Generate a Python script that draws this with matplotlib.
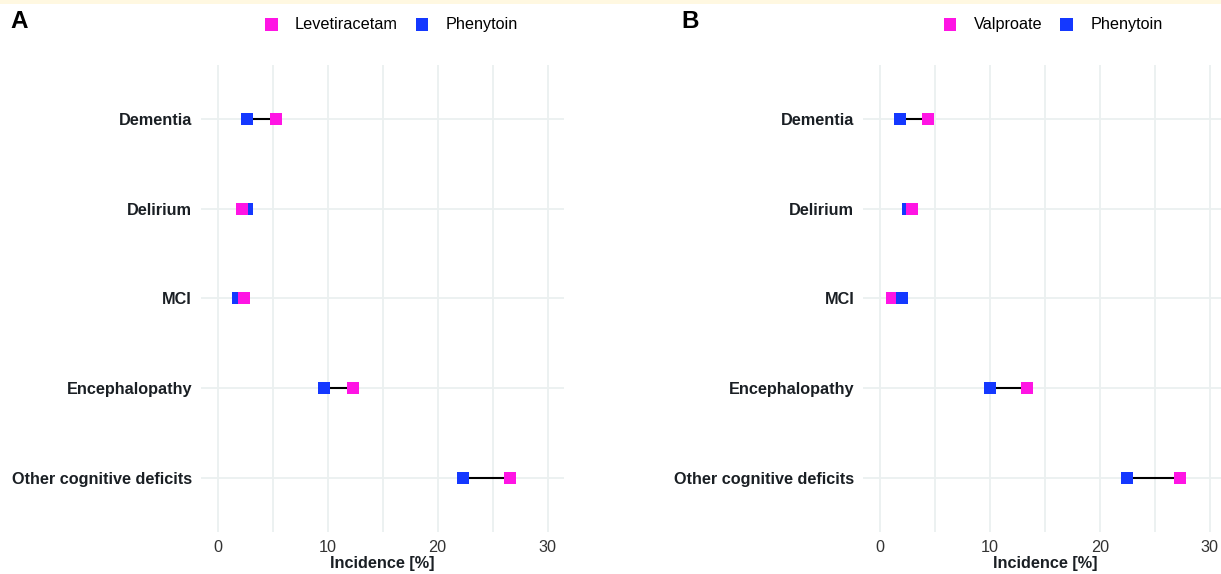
import matplotlib
matplotlib.use("Agg")
import matplotlib.pyplot as plt
from matplotlib.patches import Rectangle

plt.rcParams['font.family'] = ['Liberation Sans', 'DejaVu Sans']

categories = ["Dementia", "Delirium", "MCI", "Encephalopathy", "Other cognitive deficits"]

# Panel A
drug_a_name = "Levetiracetam"
drug_a = [5.3, 2.25, 2.45, 12.3, 26.6]
phen_a = [2.7, 2.65, 1.85, 9.7, 22.3]
blue_on_top_a = []

# Panel B
drug_b_name = "Valproate"
drug_b = [4.4, 2.9, 1.1, 13.4, 27.3]
phen_b = [1.85, 2.55, 2.05, 10.0, 22.5]
blue_on_top_b = ["MCI"]

x_ticks = [0, 10, 20, 30]
x_minor = [5, 15, 25]

PINK = "#FF14E4"
BLUE = "#1438FF"
GRID = "#EBF0F0"
TXT = "#1a1f24"
FS = 11.7

W, H = 1221, 574
fig = plt.figure(figsize=(W / 100, H / 100), dpi=100)
fig.patches.append(Rectangle((0, 1 - 3.7 / H), 1, 3.7 / H, transform=fig.transFigure,
                             facecolor="#FFF8E1", edgecolor="none", zorder=0))

pw = 363 / W
pb = (H - 531.5) / H
ph = (531.5 - 65) / H
SQ = 12.5
YL = 1 - 24.5 / H


def legend_item(x, color, label):
    fig.patches.append(Rectangle((x / W, YL - SQ / 2 / H), SQ / W, SQ / H,
                                 transform=fig.transFigure, facecolor=color, edgecolor="none"))
    return fig.text((x + SQ + 17.5) / W, YL, label, fontsize=FS, ha="left",
                    va="center", color="black")


def panel(left, drug, phen, drug_name, blue_top, letter, letter_x, leg_x):
    ax = fig.add_axes([left, pb, pw, ph])
    ax.set_facecolor("white")
    for s in ax.spines.values():
        s.set_visible(False)
    n = len(categories)
    ys = list(range(n))
    ax.set_ylim(n - 1 + 0.6, -0.6)
    ax.set_xlim(-1.5, 31.5)
    ax.set_yticks(ys)
    ax.set_yticklabels(categories, fontweight="bold", fontsize=FS, color=TXT)
    ax.set_xticks(x_ticks)
    ax.set_xticks(x_minor, minor=True)
    ax.set_xticklabels([str(t) for t in x_ticks], fontsize=FS, color="#333333")
    ax.tick_params(axis="both", which="both", length=0)
    ax.tick_params(axis="y", pad=6.5)
    ax.tick_params(axis="x", pad=6.0)
    ax.grid(True, which="both", axis="x", color=GRID, lw=1.3, zorder=0)
    ax.grid(True, which="major", axis="y", color=GRID, lw=1.3, zorder=0)
    ax.set_axisbelow(True)
    ax.set_xlabel("Incidence [%]", fontweight="bold", fontsize=FS, color=TXT, labelpad=1)
    for i, cat in enumerate(categories):
        ax.plot([phen[i], drug[i]], [i, i], color="black", lw=1.5, zorder=2,
                solid_capstyle="butt")
        zb, zp = (4, 3) if cat in blue_top else (3, 4)
        ax.plot([phen[i]], [i], marker="s", ms=8.6, color=BLUE, mew=0, ls="none", zorder=zb)
        ax.plot([drug[i]], [i], marker="s", ms=8.6, color=PINK, mew=0, ls="none", zorder=zp)
    fig.text(letter_x / W, 1 - 21.5 / H, letter, fontsize=17.5, fontweight="bold",
             ha="left", va="center", color="black")
    t1 = legend_item(leg_x, PINK, drug_name)
    return ax, t1


axA, tA = panel(201 / W, drug_a, phen_a, drug_a_name, blue_on_top_a, "A", 10.5, 265)
axB, tB = panel(863.3 / W, drug_b, phen_b, drug_b_name, blue_on_top_b, "B", 681, 944)

fig.canvas.draw()
r = fig.canvas.get_renderer()
for t in (tA, tB):
    bb = t.get_window_extent(r)
    legend_item(bb.x1 + 17.5, BLUE, "Phenytoin")

fig.savefig("out.png", dpi=100)
